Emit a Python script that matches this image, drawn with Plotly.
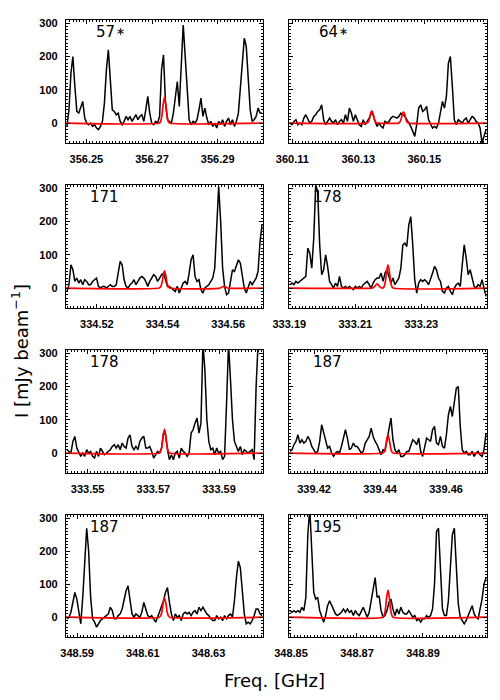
import plotly.graph_objects as go

# ---------------- data ----------------
panel_labels = ["57", "64", "171", "178", "178", "187", "187", "195"]
panel_star = [True, True, False, False, False, False, False, False]
freq_centers = [356.2738, 360.1390, 334.5406, 333.2199, 333.5734, 339.4424, 348.6166, 348.8794]
half_width = 0.03
chan_width = 0.0006

xtick_vals = [
    [356.25, 356.27, 356.29],
    [360.11, 360.13, 360.15],
    [334.52, 334.54, 334.56],
    [333.19, 333.21, 333.23],
    [333.55, 333.57, 333.59],
    [339.42, 339.44, 339.46],
    [348.59, 348.61, 348.63],
    [348.85, 348.87, 348.89],
]
ytick_vals = [0, 100, 200, 300]
ytick_text = ["0", "100", "200", "300"]

spec_57 = [-10, 40, 150, 200, 110, 35, 30, 45, 65, 15, 0, -5, 0, -10, -5, -15, -20, -10, 5, 60,
           160, 220, 120, 40, 35, 25, 30, 5, -5, 5, 20, 10, 20, 5, 15, 25, 10, 20, 25, 5,
           40, 80, 30, 0, -5, 5, 0, 20, 160, 205, 60, 10, 5, 0, 30, 80, 125, 50, 180, 295,
           200, 90, 10, -5, 5, 0, 10, 40, 75, 20, 45, 15, -5, 5, -10, 0, -15, 5, -5, 10,
           -10, 5, 15, -5, 10, -10, 5, 30, 110, 200, 255, 230, 120, 40, 5, 10, 20, 45, 30, 30]
spec_64 = [0, -5, 5, 10, -5, 0, -5, 15, 25, 10, 0, 5, 20, 25, 35, 40, 55, 10, -5, 5,
           15, 5, 0, 10, -5, 5, 10, 0, 25, 5, 45, 30, 5, 25, 10, -5, -10, 10, -5, 5,
           15, 30, 25, 5, -10, 0, -10, -15, 5, 0, 5, 15, 20, 18, 15, 20, 30, 25, 20, 10,
           0, -10, -25, -40, -5, 45, 55, 35, 40, 50, 10, -5, -15, -10, -15, 0, 30, 65, 45, 80,
           180, 200, 110, 10, -5, 10, 5, 0, 10, 15, 0, 10, 20, 15, 5, 0, -15, -60, -40, -20]
spec_171 = [-10, 10, 70, 55, 20, 30, 15, 25, 10, 25, 20, 10, 10, 20, 25, 30, 5, 0, 5, 5,
            0, 5, 10, 5, 5, 10, 40, 80, 70, 25, 5, 0, 10, 15, 25, 10, 20, 30, 35, 30,
            20, 5, 20, 30, 40, 35, 20, 30, 40, 45, 25, 5, 5, 0, -5, -10, 5, -15, 0, 15,
            20, 10, 45, 85, 100, 35, 20, 25, -5, -15, 0, 5, 10, 20, 30, 60, 180, 305, 200, 60,
            5, -20, -15, 15, 55, 50, 65, 85, 75, 30, 0, -15, 5, 20, 10, 20, 30, 50, 140, 190]
spec_178a = [10, 15, 10, 20, 15, 20, 25, 30, 35, 120, 105, 60, 150, 310, 290, 130, 40, 55, 100, 65,
             20, 10, 0, 15, 5, 35, 5, 0, 5, 0, 5, 0, -5, 5, 0, 5, 0, 10, 15, 20,
             10, 0, 15, 25, 30, 30, 45, 20, 45, 55, 35, 15, 30, 10, 20, 30, 60, 130, 135, 125,
             190, 215, 130, 25, -15, 15, 25, 20, 25, 20, 10, 25, 45, 65, 55, 30, 20, -10, -15, 0,
             5, -10, -20, 0, 10, 15, 5, 70, 130, 90, 40, 55, 30, 5, 0, 10, 5, 25, 0, -25]
spec_178b = [10, 5, 0, 35, 50, 15, 0, -10, 0, -10, 10, 0, 5, -10, -15, 5, -10, 15, 5, -5,
             0, 5, 10, 20, 25, 15, 25, 10, 30, 20, 15, 45, 55, 20, 10, 20, 10, 35, 45, 50,
             15, 15, 20, 5, -15, -5, 5, 0, 15, 60, 55, 10, -20, -5, -20, 0, 5, -15, 15, 5,
             0, -10, 0, 60, 70, 90, 105, 60, 90, 330, 250, 100, 35, 10, 15, -5, 15, 0, 5, -20,
             -10, 150, 330, 220, 100, 35, 20, 5, 20, -5, 10, 5, 0, 5, 10, -20, 200, 330, 330, 330]
spec_187a = [5, 10, 25, 35, 55, 30, 40, 30, 35, 50, 40, 20, 10, 0, 5, 35, 85, 60, 40, 15,
             20, 0, -10, 0, 5, 0, 20, 50, 70, 45, 10, 15, 30, 20, 20, 10, 0, 5, 30, 40,
             50, 75, 50, 35, 25, 10, -5, 10, 5, 40, 70, 105, 40, 10, 0, 10, -10, -10, -5, 5,
             5, 20, 40, 35, 25, 45, 5, -10, 20, 45, 40, 35, 70, 80, 30, 25, 50, 20, 15, 55,
             115, 140, 110, 150, 195, 200, 80, 10, 0, 5, -5, -5, 5, -10, 0, 5, -5, -10, 10, 60]
spec_187b = [-5, 0, 15, 45, 75, 55, 15, -20, 60, 180, 270, 200, 60, -5, -15, -30, -20, -10, -5, 0,
             5, 10, 30, 20, -5, -5, 5, 10, 25, 55, 80, 95, 45, 10, 0, 10, 5, 0, 15, 45,
             25, 5, 0, 5, -5, -15, 0, 15, 35, 50, 75, 90, 45, 10, -10, 10, 0, 5, -10, 10,
             15, 10, 15, 5, 15, 20, 10, 30, 20, 30, 20, 10, 5, -5, -10, -10, 5, -5, 0, -10,
             5, -5, 5, 10, 0, 50, 120, 170, 150, 70, 10, -20, -15, -20, -10, 5, 25, 25, 10, 5]
spec_195 = [20, 15, 20, 15, 20, 15, 30, 20, 60, 250, 330, 200, 75, 55, 60, 20, 0, -15, 5, 35,
            50, 35, 20, 10, 5, 10, 15, 25, 15, 25, 15, 20, 5, 20, 10, 5, 20, 30, 15, 0,
            15, 55, 85, 120, 60, 65, 20, 0, 5, 20, 45, 55, 25, 5, 25, 10, 30, 15, 10, 10,
            20, 10, 0, 5, -10, -5, -15, -5, -5, 5, 0, 5, 25, 100, 260, 270, 120, 25, 5, 5,
            50, 150, 250, 270, 160, 40, 0, -10, -20, -10, 5, 15, 35, 10, 0, -5, 25, 55, 100, 120]
spectra = [spec_57, spec_64, spec_171, spec_178a, spec_178b, spec_187a, spec_187b, spec_195]

# red model lines: offsets from the panel centre (GHz) and intensities
red_off_57 = [-0.0016, -0.0012, -0.0008, -0.0004, 0.0, 0.0004, 0.0008, 0.0012, 0.0016]
red_val_57 = [0, 4, 22, 57, 78, 57, 22, 4, 0]
red_off_64 = [-0.0065, -0.0061, -0.0057, -0.0053, -0.0049, -0.0045, -0.0041, -0.0037, -0.0033,
              0.0031, 0.0035, 0.0039, 0.0043, 0.0047, 0.0051, 0.0055, 0.0059, 0.0063]
red_val_64 = [0, 2, 10, 27, 37, 27, 10, 2, 0, 0, 2, 9, 25, 34, 25, 9, 2, 0]
red_off_171 = [-0.0016, -0.0012, -0.0008, -0.0004, 0.0, 0.0004, 0.0008, 0.0012, 0.0016,
               0.0169, 0.0175, 0.0181, 0.0187, 0.0193]
red_val_171 = [0, 3, 14, 38, 52, 38, 14, 3, 0, 0, 3, 5, 3, 0]
red_off_178a = [-0.0049, -0.0045, -0.0041, -0.0037, -0.0033, -0.0029, -0.0025, -0.0021,
                -0.0016, -0.0012, -0.0008, -0.0004, 0.0, 0.0004, 0.0008, 0.0012, 0.0016]
red_val_178a = [0, 1, 4, 9, 13, 9, 4, 1, 0, 4, 19, 51, 70, 51, 19, 4, 0]
red_off_178b = [-0.0016, -0.0012, -0.0008, -0.0004, 0.0, 0.0004, 0.0008, 0.0012, 0.0016]
red_val_178b = [0, 4, 20, 52, 72, 52, 20, 4, 0]
red_off_187a = [-0.0016, -0.0012, -0.0008, -0.0004, 0.0, 0.0004, 0.0008, 0.0012, 0.0016]
red_val_187a = [0, 3, 15, 40, 55, 40, 15, 3, 0]
red_off_187b = [-0.0016, -0.0012, -0.0008, -0.0004, 0.0, 0.0004, 0.0008, 0.0012, 0.0016]
red_val_187b = [0, 4, 16, 43, 59, 43, 16, 4, 0]
red_off_195 = [-0.0016, -0.0012, -0.0008, -0.0004, 0.0, 0.0004, 0.0008, 0.0012, 0.0016]
red_val_195 = [0, 5, 23, 60, 82, 60, 23, 5, 0]
red_offsets = [red_off_57, red_off_64, red_off_171, red_off_178a, red_off_178b,
               red_off_187a, red_off_187b, red_off_195]
red_values = [red_val_57, red_val_64, red_val_171, red_val_178a, red_val_178b,
              red_val_187a, red_val_187b, red_val_195]

# ---------------- layout geometry (window pixels) ----------------
PAGE = 8                      # default body margin of the html page
W, H = 500 - PAGE, 700 - PAGE  # figure size so it fits the window
col_px = [(66, 263), (289, 487)]
row_px = [(20, 143), (185, 308), (350, 473), (515, 637)]


def fx(p):
    return (p - PAGE) / W


def fy(p):
    return 1 - (p - PAGE) / H


fig = go.Figure()
layout = dict(
    template="none",
    width=W, height=H, margin=dict(l=0, r=0, t=0, b=0, pad=0, autoexpand=False),
    paper_bgcolor="white", plot_bgcolor="white", showlegend=False,
    annotations=[],
)

tickfont = dict(family="Liberation Sans", size=11, color="black", weight="bold")

for k in range(8):
    r, c = divmod(k, 2)
    xs = "" if k == 0 else str(k + 1)
    cen = freq_centers[k]
    lo, hi = cen - half_width, cen + half_width
    vals = spectra[k]
    freqs = [lo + chan_width * (i + 0.5) for i in range(len(vals))]
    fig.add_trace(go.Scatter(x=freqs, y=vals, mode="lines",
                             line=dict(color="black", width=1.5, shape="linear"),
                             xaxis="x" + xs, yaxis="y" + xs, hoverinfo="skip"))
    rx = [lo] + [cen + o for o in red_offsets[k]] + [hi]
    ry = [0] + red_values[k] + [0]
    fig.add_trace(go.Scatter(x=rx, y=ry, mode="lines",
                             line=dict(color="#ff0000", width=1.7, shape="spline", smoothing=0.7),
                             xaxis="x" + xs, yaxis="y" + xs, hoverinfo="skip"))

    x0, x1 = col_px[c]
    t, b = row_px[r]
    layout["xaxis" + xs] = dict(
        domain=[fx(x0), fx(x1)], range=[lo, hi], anchor="y" + xs, automargin=False,
        tickmode="array", tickvals=xtick_vals[k], ticktext=["%.2f" % v for v in xtick_vals[k]],
        ticks="inside", ticklen=4, tickwidth=1, tickcolor="black",
        mirror="allticks", showline=True, linecolor="black", linewidth=1.3,
        showgrid=False, zeroline=False, tickfont=tickfont, ticklabelstandoff=6,
        minor=dict(ticks="inside", ticklen=2, dtick=0.001, tick0=0, tickcolor="black", showgrid=False),
    )
    layout["yaxis" + xs] = dict(
        domain=[fy(b), fy(t)], range=[-60, 310], anchor="x" + xs, automargin=False,
        tickmode="array", tickvals=ytick_vals, ticktext=ytick_text,
        showticklabels=(c == 0),
        ticks="inside", ticklen=4, tickwidth=1, tickcolor="black",
        mirror="allticks", showline=True, linecolor="black", linewidth=1.3,
        showgrid=False, zeroline=False, tickfont=tickfont, ticklabelstandoff=5,
        minor=dict(ticks="inside", ticklen=2, dtick=10, tick0=0, tickcolor="black", showgrid=False),
    )
    off = 28 if r == 0 else 22
    layout["annotations"].append(dict(
        text=panel_labels[k], xref="paper", yref="paper",
        x=fx(x0 + off), y=fy(t + 12), xanchor="left", yanchor="middle",
        showarrow=False, font=dict(family="DejaVu Sans", size=15, color="black"),
    ))
    if panel_star[k]:
        layout["annotations"].append(dict(
            text="∗", xref="paper", yref="paper",
            x=fx(x0 + off + 20), y=fy(t + 12), xanchor="left", yanchor="middle",
            showarrow=False, font=dict(family="DejaVu Sans", size=11, color="black"),
        ))

layout["annotations"].append(dict(
    text="Freq. [GHz]", xref="paper", yref="paper", x=fx(274), y=fy(680),
    xanchor="center", yanchor="middle", showarrow=False,
    font=dict(family="DejaVu Sans", size=18, color="black"),
))
layout["annotations"].append(dict(
    text="I [mJy beam<sup>−1</sup>]", xref="paper", yref="paper", x=fx(20), y=fy(351),
    xanchor="center", yanchor="middle", textangle=-90, showarrow=False,
    font=dict(family="DejaVu Sans", size=18, color="black"),
))

fig.update_layout(**layout)
fig.write_html("out.html", config={"displayModeBar": False})
